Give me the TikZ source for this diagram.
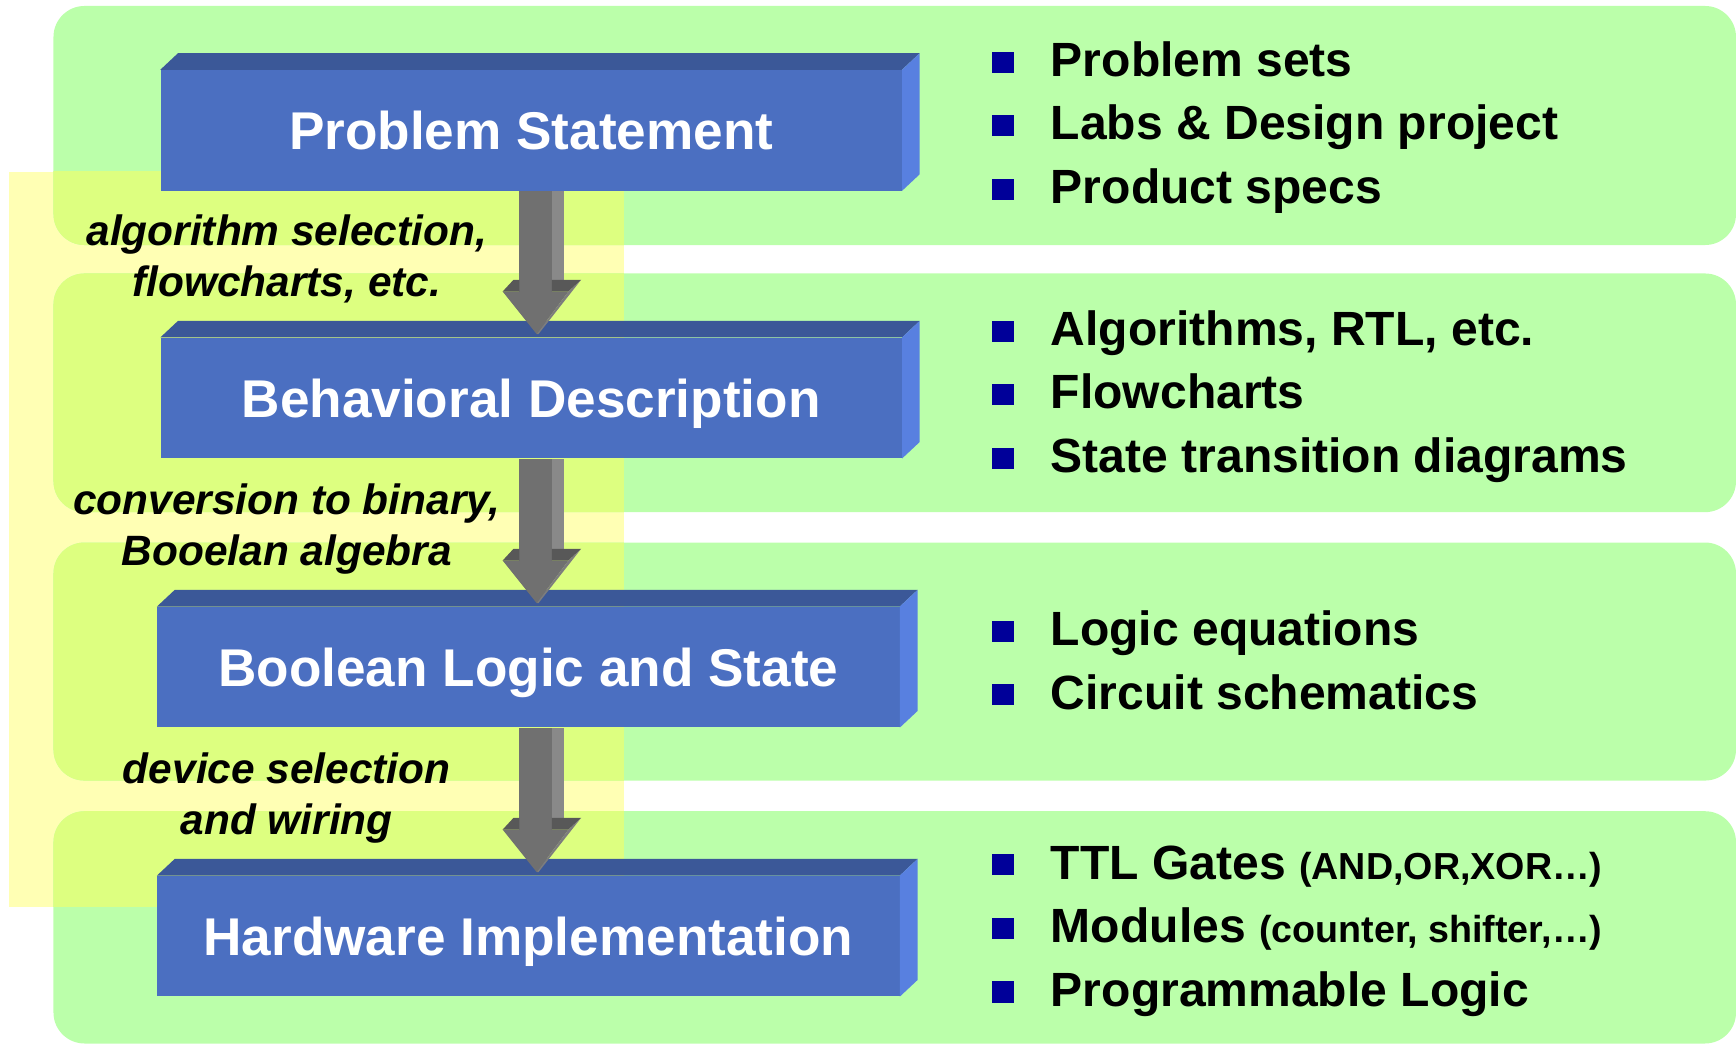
\documentclass[tikz,border=0pt]{standalone}
\usepackage{fontspec}
\setmainfont{Liberation Sans}
\usetikzlibrary{calc}
\definecolor{panelgreen}{RGB}{187,255,170}
\definecolor{paleyellow}{RGB}{255,255,180}
\definecolor{mixgreen}{RGB}{221,255,128}
\definecolor{boxfrontc}{RGB}{75,111,193}
\definecolor{boxtopc}{RGB}{59,88,152}
\definecolor{boxsidec}{RGB}{88,128,224}
\definecolor{arrfrontc}{RGB}{112,112,112}
\definecolor{arrsidec}{RGB}{137,137,137}
\definecolor{arrbevelc}{RGB}{88,88,88}
\definecolor{arrheadc}{RGB}{125,125,125}
\definecolor{bulletc}{RGB}{0,0,153}

\tikzset{
  panel/.style={rounded corners=28pt},
  stagebox/.style={fill=boxfrontc, inner sep=0pt, text=white,
    font=\bfseries\fontsize{48}{57}\selectfont,
    text height=35.5pt, text depth=0pt, minimum height=109pt},
  bul/.style={fill=bulletc, minimum width=19.3pt, minimum height=19pt, inner sep=0pt},
  itm/.style={anchor=base west, inner sep=0pt, font=\bfseries\fontsize{43.4}{50}\selectfont},
  lbl/.style={anchor=base, inner sep=0pt, font=\bfseries\itshape\fontsize{38.3}{45}\selectfont},
}
\newcommand\smallpart[1]{{\fontsize{34}{40}\selectfont #1}}

\newcommand\drawboxdepth[1]{%
  \fill[boxtopc] (#1.north west) -- ++(16,-15) -- ($(#1.north east)+(16,-15)$) -- (#1.north east) -- cycle;
  \fill[boxsidec] (#1.north east) -- ++(16,-15) -- ($(#1.south east)+(16,-15)$) -- (#1.south east) -- cycle;
}
\newcommand\drawblockarrow[2]{%
  \fill[arrfrontc] ($(#2 |- #1.south)+(-15.8,0)$) rectangle ($(#2)+(13.6,-38.5)$);
  \fill[arrsidec] ($(#2 |- #1.south)+(13.6,0)$) rectangle ($(#2)+(25,-49)$);
  \fill[arrfrontc] ($(#2)+(-30.8,-38.5)$) -- ($(#2)+(28.6,-38.5)$) -- (#2) -- cycle;
  \fill[arrbevelc] ($(#2)+(-30.8,-38.5)$) -- ($(#2)+(-21.1,-49)$) -- ($(#2)+(-15.8,-49)$) -- ($(#2)+(-15.8,-38.5)$) -- cycle;
  \fill[arrbevelc] ($(#2)+(13.6,-49)$) -- ($(#2)+(40,-49)$) -- ($(#2)+(28.6,-38.5)$) -- ($(#2)+(13.6,-38.5)$) -- cycle;
  \fill[arrheadc] ($(#2)+(40,-49)$) -- ($(#2)+(28.6,-38.5)$) -- (#2) -- ($(#2)+(1.5,0)$) -- cycle;
}

\begin{document}
\begin{tikzpicture}[x=1pt,y=-1pt]
\useasboundingbox (0,0) rectangle (1568,943);

% yellow band
\fill[paleyellow] (8,155) rectangle (563.4,819);
% green panels
\foreach \ya/\yb in {5.4/221.3, 247/462.6, 490/705, 732.7/942.5}
  \fill[panel, panelgreen] (48.3,\ya) rectangle (1568,\yb);
% overlap of yellow band and panels
\begin{scope}
  \clip (8,155) rectangle (563.4,819);
  \foreach \ya/\yb in {5.4/221.3, 247/462.6, 490/705, 732.7/942.5}
    \fill[panel, mixgreen] (48.3,\ya) rectangle (1568,\yb);
\end{scope}

% stage boxes
\node[stagebox, minimum width=669.5pt] (b1) at (479.75,117.7) {Problem Statement};
\node[stagebox, minimum width=669.5pt] (b2) at (479.75,359.5) {Behavioral Description};
\node[stagebox, minimum width=670.5pt] (b3) at (477.25,602.5) {Boolean Logic and State};
\node[stagebox, minimum width=670.5pt] (b4) at (477.25,845.5) {Hardware Implementation};
\drawboxdepth{b1}
\drawboxdepth{b2}
\drawboxdepth{b3}
\drawboxdepth{b4}

% block arrows
\coordinate (axis) at (484.8,0);
\coordinate (t1) at ($(b2.north -| axis)+(0,-3)$);
\coordinate (t2) at ($(b3.north -| axis)+(0,-3)$);
\coordinate (t3) at ($(b4.north -| axis)+(0,-3)$);
\drawblockarrow{b1}{t1}
\drawblockarrow{b2}{t2}
\drawblockarrow{b3}{t3}

% transition labels
\node[lbl] (l1a) at (259,222) {algorithm selection,};
\node[lbl] (l1b) at (259,268) {flowcharts, etc.};
\node[lbl] (l2a) at (259,464.7) {conversion to binary,};
\node[lbl] (l2b) at (259,510.7) {Booelan algebra};
\node[lbl] (l3a) at (259,707.4) {device selection};
\node[lbl] (l3b) at (259,753.4) {and wiring};

% bullet lists
\node[bul] (s11) at (906,56.2) {};   \node[itm] (i11) at (949,69) {Problem sets};
\node[bul] (s12) at (906,113.6) {};  \node[itm] (i12) at (949,126.4) {Labs \& Design project};
\node[bul] (s13) at (906,171) {};    \node[itm] (i13) at (949,183.8) {Product specs};

\node[bul] (s21) at (906,299.2) {};  \node[itm] (i21) at (949,312) {Algorithms, RTL, etc.};
\node[bul] (s22) at (906,356.6) {};  \node[itm] (i22) at (949,369.4) {Flowcharts};
\node[bul] (s23) at (906,414) {};    \node[itm] (i23) at (949,426.8) {State transition diagrams};

\node[bul] (s31) at (906,570.2) {};  \node[itm] (i31) at (949,583) {Logic equations};
\node[bul] (s32) at (906,627.6) {};  \node[itm] (i32) at (949,640.4) {Circuit schematics};

\node[bul] (s41) at (906,781.2) {};  \node[itm] (i41) at (949,794) {TTL Gates \smallpart{(AND,OR,XOR…)}};
\node[bul] (s42) at (906,838.6) {};  \node[itm] (i42) at (949,851.4) {Modules \smallpart{(counter, shifter,…)}};
\node[bul] (s43) at (906,896) {};    \node[itm] (i43) at (949,908.8) {Programmable Logic};
\end{tikzpicture}
\end{document}
